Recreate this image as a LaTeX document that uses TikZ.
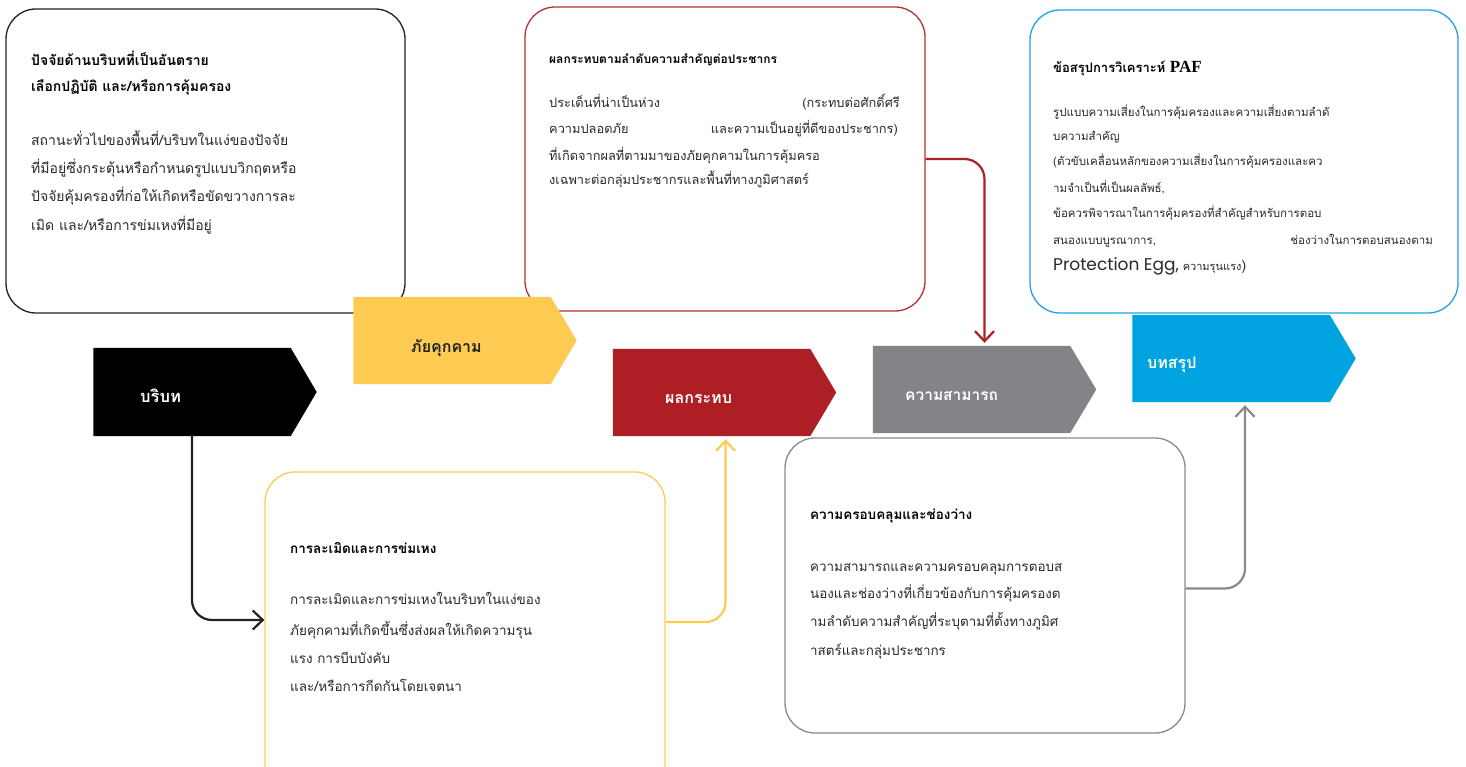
\documentclass[tikz,border=0pt]{standalone}
\usepackage{fontspec}
\setmainfont[Script=Thai]{Loma}
\newfontfamily\pop{Poppins}
\newfontfamily\tnr{Liberation Serif}
\usetikzlibrary{arrows.meta}
\definecolor{cblack}{HTML}{000000}
\definecolor{cyel}{HTML}{FECB52}
\definecolor{cred}{HTML}{AD1F24}
\definecolor{cgray}{HTML}{838487}
\definecolor{cblue}{HTML}{00A3E0}
\definecolor{bred}{HTML}{B3323A}
\definecolor{bgray}{HTML}{8A8A8C}
\definecolor{bblue}{HTML}{1FA3E2}
\definecolor{bblack}{HTML}{222222}
\definecolor{txtc}{HTML}{2A2A2A}
\begin{document}
\begin{tikzpicture}[x=1pt,y=-1pt,
  rbox/.style={rounded corners=30pt, line width=1.3pt, fill=white, inner sep=0pt},
  body/.style={minimum width=197pt, minimum height=88pt, inner sep=0pt},
  lbl/.style={anchor=base west, inner sep=0pt, font=\bfseries\fontsize{15.5}{18}\selectfont},
  conn/.style={line width=2.2pt, rounded corners=20pt, -{Straight Barb[length=10pt,width=19pt,line width=2.2pt]}},
  ta/.style={anchor=base west, inner sep=0pt, font=\bfseries\fontsize{14}{16}\selectfont},
  tb/.style={anchor=base west, inner sep=0pt, text=txtc, font=\fontsize{14}{16}\selectfont},
  tb2/.style={anchor=base east, inner sep=0pt, text=txtc, font=\fontsize{#1}{16}\selectfont},
]
\useasboundingbox (0,0) rectangle (1466,767);
\clip (0,0) rectangle (1466,767);
\fill[white] (0,0) rectangle (1466,767);

% rounded boxes
\node[rbox, draw=bblack, minimum width=399pt, minimum height=304pt] (b1) at (205.5,161) {};
\node[rbox, draw=bred, minimum width=400pt, minimum height=304pt] (b2) at (725,159) {};
\node[rbox, draw=bblue, minimum width=428pt, minimum height=303pt] (b3) at (1244,161.5) {};
\node[rbox, draw=cyel, minimum width=400pt, minimum height=360pt] (b4) at (465,652) {};
\node[rbox, draw=bgray, minimum width=400pt, minimum height=295pt] (b5) at (985,585.5) {};

% chevrons
\node[body] (ctx) at (192,392) {};
\fill[cblack] (ctx.north west) -- (ctx.north east) -- ([xshift=26pt]ctx.east) -- (ctx.south east) -- (ctx.south west) -- cycle;
\node[body, minimum height=87pt] (thr) at (452,340.5) {};
\fill[cyel] (thr.north west) -- (thr.north east) -- ([xshift=26pt]thr.east) -- (thr.south east) -- (thr.south west) -- cycle;
\node[body, minimum height=87pt] (imp) at (711.5,392.5) {};
\fill[cred] (imp.north west) -- (imp.north east) -- ([xshift=26pt]imp.east) -- (imp.south east) -- (imp.south west) -- cycle;
\node[body, minimum height=87pt] (cap) at (971.5,389.5) {};
\fill[cgray] (cap.north west) -- (cap.north east) -- ([xshift=26pt]cap.east) -- (cap.south east) -- (cap.south west) -- cycle;
\node[body, minimum height=87pt] (con) at (1231,358.5) {};
\fill[cblue] (con.north west) -- (con.north east) -- ([xshift=26pt]con.east) -- (con.south east) -- (con.south west) -- cycle;

\node[lbl, text=white, font=\bfseries\fontsize{16.5}{18}\selectfont] (l1) at (140,402) {บริบท};
\node[lbl, text=bblack, font=\bfseries\fontsize{16}{18}\selectfont] (l2) at (411,352) {ภัยคุกคาม};
\node[lbl, text=white, font=\bfseries\fontsize{16}{18}\selectfont] (l3) at (665,403) {ผลกระทบ};
\node[lbl, text=white] (l4) at (905,400) {ความสามารถ};
\node[lbl, text=white, font=\bfseries\fontsize{16}{18}\selectfont] (l5) at (1147,368) {บทสรุป};

% connectors
\draw[conn, draw=bblack] (ctx.south) |- ([yshift=32pt]b4.west);
\draw[conn, draw=cyel, shorten >=3pt] ([yshift=30pt]b4.east) -| ([xshift=14pt]imp.south);
\draw[conn, draw=cred, shorten >=3pt] (b2.east) -| ([xshift=13pt]cap.north);
\draw[conn, draw=bgray, shorten >=3pt] ([yshift=-3pt]b5.east) -| ([xshift=14pt]con.south);

% box 1 text
\node[ta] (t1a) at (31,66) {ปัจจัยด้านบริบทที่เป็นอันตราย};
\node[ta] (t1b) at (31,92) {เลือกปฏิบัติ และ/หรือการคุ้มครอง};
\node[tb] (t1c) at (31,146) {สถานะทั่วไปของพื้นที่/บริบทในแง่ของปัจจัย};
\node[tb] (t1d) at (31,174) {ที่มีอยู่ซึ่งกระตุ้นหรือกำหนดรูปแบบวิกฤตหรือ};
\node[tb] (t1e) at (31,202) {ปัจจัยคุ้มครองที่ก่อให้เกิดหรือขัดขวางการละ};
\node[tb] (t1f) at (31,231) {เมิด และ/หรือการข่มเหงที่มีอยู่};

% box 2 text
\node[ta, font=\bfseries\fontsize{12}{14}\selectfont] (t2a) at (549,64) {ผลกระทบตามลำดับความสำคัญต่อประชากร};
\node[tb, font=\fontsize{12.8}{14}\selectfont] (t2b) at (549,108) {ประเด็นที่น่าเป็นห่วง};
\node[tb2=12.8] (t2c) at (900,108) {(กระทบต่อศักดิ์ศรี};
\node[tb, font=\fontsize{12.8}{14}\selectfont] (t2d) at (549,134) {ความปลอดภัย};
\node[tb2=12.8] (t2e) at (898,134) {และความเป็นอยู่ที่ดีของประชากร)};
\node[tb, font=\fontsize{12.8}{14}\selectfont] (t2f) at (549,161) {ที่เกิดจากผลที่ตามมาของภัยคุกคามในการคุ้มครอ};
\node[tb, font=\fontsize{12.8}{14}\selectfont] (t2g) at (549,185) {งเฉพาะต่อกลุ่มประชากรและพื้นที่ทางภูมิศาสตร์};

% box 3 text
\node[ta, font=\bfseries\fontsize{13}{14}\selectfont] (t3a) at (1053,73) {ข้อสรุปการวิเคราะห์ {\tnr\bfseries\fontsize{17}{18}\selectfont PAF}};
\node[tb, font=\fontsize{11.5}{14}\selectfont] (t3b) at (1053,117) {รูปแบบความเสี่ยงในการคุ้มครองและความเสี่ยงตามลำดั};
\node[tb, font=\fontsize{11.5}{14}\selectfont] (t3c) at (1053,141) {บความสำคัญ};
\node[tb, font=\fontsize{11.5}{14}\selectfont] (t3d) at (1053,166) {(ตัวขับเคลื่อนหลักของความเสี่ยงในการคุ้มครองและคว};
\node[tb, font=\fontsize{11.5}{14}\selectfont] (t3e) at (1053,193) {ามจำเป็นที่เป็นผลลัพธ์,};
\node[tb, font=\fontsize{11.5}{14}\selectfont] (t3f) at (1053,218) {ข้อควรพิจารณาในการคุ้มครองที่สำคัญสำหรับการตอบ};
\node[tb, font=\fontsize{11.5}{14}\selectfont] (t3g) at (1053,245) {สนองแบบบูรณาการ,};
\node[tb2=11.5] (t3h) at (1433,245) {ช่องว่างในการตอบสนองตาม};
\node[tb, font=\fontsize{11}{14}\selectfont] (t3i) at (1053,270) {{\pop\fontsize{17}{18}\selectfont Protection Egg,} ความรุนแรง{\fontsize{14}{16}\selectfont)}};

% box 4 text
\node[ta, font=\bfseries\fontsize{13.5}{14}\selectfont] (t4a) at (290,553) {การละเมิดและการข่มเหง};
\node[tb, font=\fontsize{13.5}{14}\selectfont] (t4b) at (290,604) {การละเมิดและการข่มเหงในบริบทในแง่ของ};
\node[tb, font=\fontsize{13.5}{14}\selectfont] (t4c) at (290,635) {ภัยคุกคามที่เกิดขึ้นซึ่งส่งผลให้เกิดความรุน};
\node[tb, font=\fontsize{13.5}{14}\selectfont] (t4d) at (290,663) {แรง การบีบบังคับ};
\node[tb, font=\fontsize{13.5}{14}\selectfont] (t4e) at (290,691) {และ/หรือการกีดกันโดยเจตนา};

% box 5 text
\node[ta, font=\bfseries\fontsize{13.5}{14}\selectfont] (t5a) at (810,519) {ความครอบคลุมและช่องว่าง};
\node[tb, font=\fontsize{13.4}{14}\selectfont] (t5b) at (810,571) {ความสามารถและความครอบคลุมการตอบส};
\node[tb, font=\fontsize{13.4}{14}\selectfont] (t5c) at (810,598) {นองและช่องว่างที่เกี่ยวข้องกับการคุ้มครองต};
\node[tb, font=\fontsize{13.4}{14}\selectfont] (t5d) at (810,626) {ามลำดับความสำคัญที่ระบุตามที่ตั้งทางภูมิศ};
\node[tb, font=\fontsize{13.4}{14}\selectfont] (t5e) at (810,655) {าสตร์และกลุ่มประชากร};
\end{tikzpicture}
\end{document}
